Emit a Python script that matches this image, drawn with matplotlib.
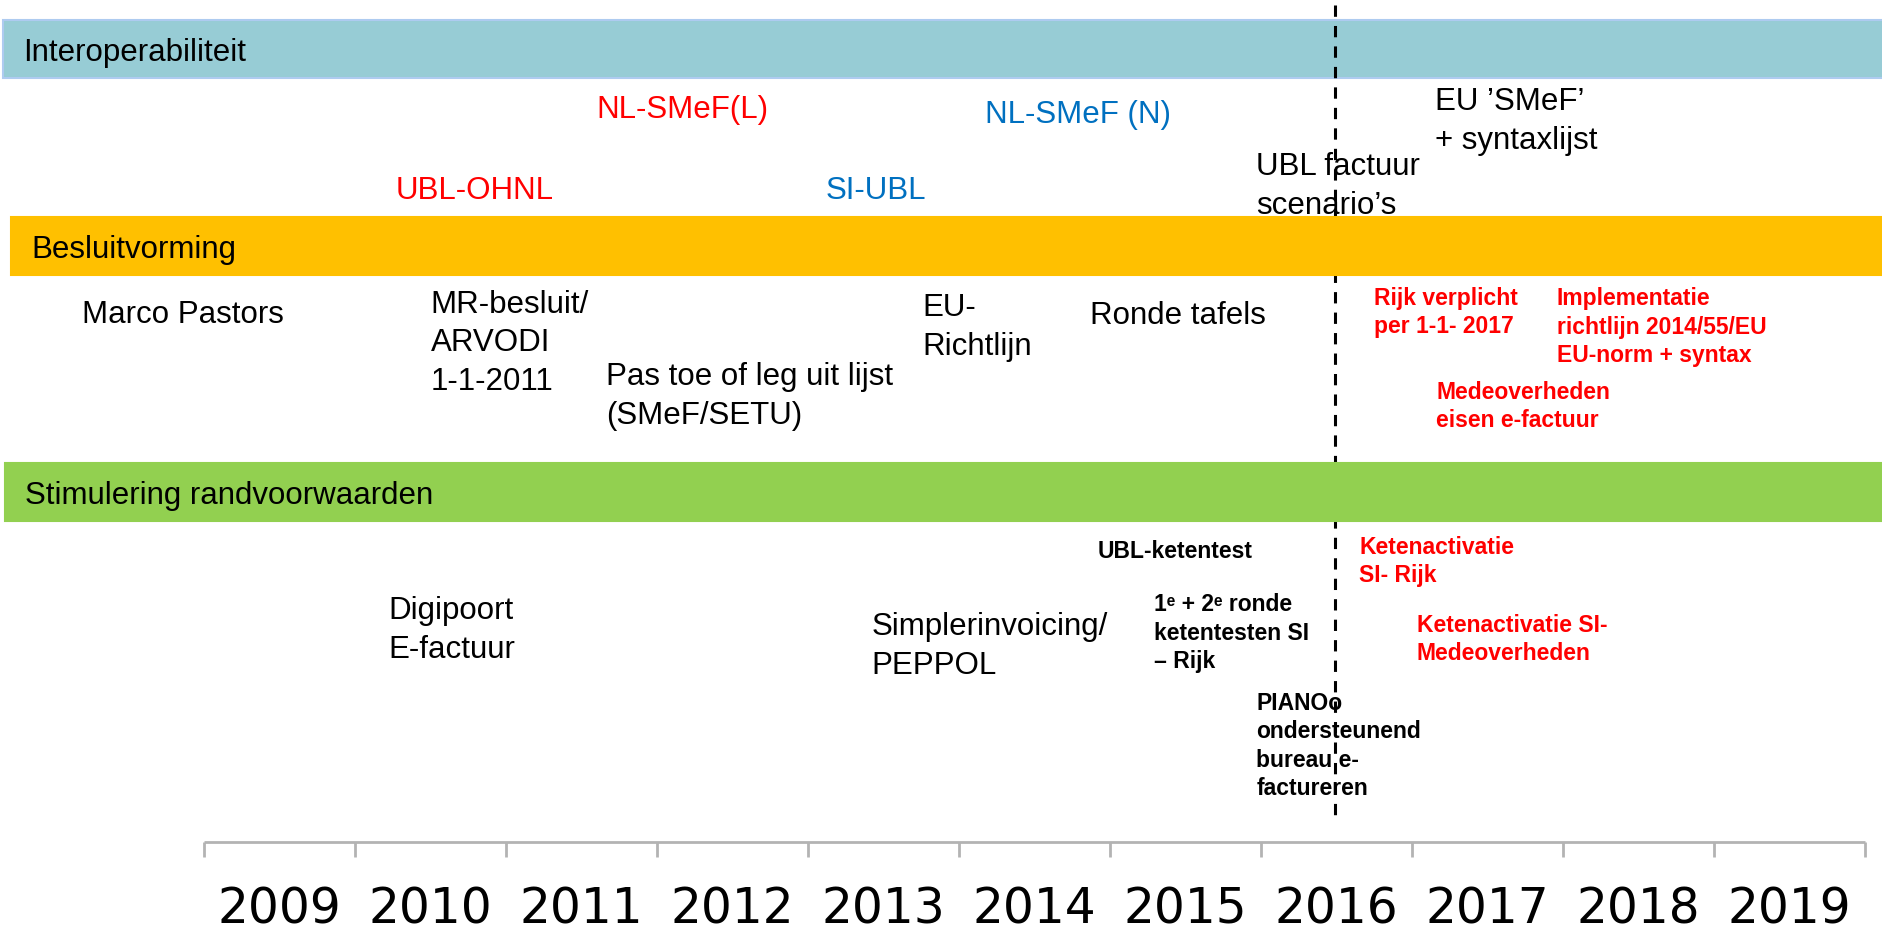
import matplotlib
matplotlib.use("Agg")
import matplotlib.pyplot as plt

# --- DATA ---
YEARS = list(range(2009, 2020))
NOW_YEAR = 2015.99  # dashed "today" marker

LANES = ['Interoperabiliteit', 'Besluitvorming', 'Stimulering randvoorwaarden']
LANE_COLORS = ['#97CCD5', '#FFC000', '#92D050']

# normal-weight items: text, start year, baseline of last line (px from top), colour
NORMAL_TEXT = ['NL-SMeF(L)', 'NL-SMeF (N)', 'UBL-OHNL', 'SI-UBL',
               'EU ’SMeF’\n+ syntaxlijst', 'UBL factuur\nscenario’s',
               'Marco Pastors', 'MR-besluit/\nARVODI\n1-1-2011',
               'Pas toe of leg uit lijst\n(SMeF/SETU)', 'EU-\nRichtlijn', 'Ronde tafels',
               'Digipoort\nE-factuur', 'Simplerinvoicing/\nPEPPOL']
NORMAL_YEAR = [2011.10, 2013.67, 2009.77, 2012.62, 2016.65, 2015.47,
               2007.69, 2010.00, 2011.16, 2013.26, 2014.37, 2009.72, 2012.92]
NORMAL_ROW = [118, 123, 199, 199, 149, 214, 323, 390, 424, 355, 324, 658, 674]
NORMAL_COLOR = ['red', '#0070C0', 'red', '#0070C0', 'black', 'black',
                'black', 'black', 'black', 'black', 'black', 'black', 'black']

# bold items
BOLD_TEXT = ['Rijk verplicht\nper 1-1- 2017',
             'Implementatie\nrichtlijn 2014/55/EU\nEU-norm + syntax',
             'Medeoverheden\neisen e-factuur',
             'Ketenactivatie\nSI- Rijk',
             'Ketenactivatie SI-\nMedeoverheden',
             'UBL-ketentest',
             '1ᵉ + 2ᵉ ronde\nketentesten SI\n– Rijk',
             'PIANOo\nondersteunend\nbureau e-\nfactureren']
BOLD_YEAR = [2016.25, 2017.46, 2016.66, 2016.15, 2016.53, 2014.42, 2014.79, 2015.47]
BOLD_ROW = [333, 362, 427, 582, 660, 558, 668, 795]
BOLD_COLOR = ['red', 'red', 'red', 'red', 'red', 'black', 'black', 'black']

# --- LAYOUT ---
W, H = 1883, 936
PX0, PX_PER_YEAR = 204, 151  # pixel of left tick (2008.5) and year width


def px_to_year(px):
    return 2008.5 + (px - PX0) / PX_PER_YEAR


fig = plt.figure(figsize=(W / 100, H / 100), dpi=100)
ax = fig.add_axes([0, 0, 1, 1])
ax.set_xlim(px_to_year(0), px_to_year(W))
ax.set_ylim(H, 0)
ax.axis('off')

lane_top = [20, 217, 463]
lane_bottom = [78, 275, 521]
lane_left = [3, 11, 5]
lane_z = [1, 2.5, 2.5]  # the dashed line shows over the blue band only
for name, col, t, b, l, z in zip(LANES, LANE_COLORS, lane_top, lane_bottom, lane_left, lane_z):
    edge = '#AECBF0' if name == 'Interoperabiliteit' else col
    ax.axhspan(t, b, xmin=l / W, xmax=1, facecolor=col, edgecolor=edge, lw=1.5, zorder=z)
    ax.text(px_to_year(l + 20), b - 17, name, fontsize=22.5, family='Liberation Sans',
            va='baseline', ha='left', zorder=3)

for txt, yr, row, col in zip(NORMAL_TEXT, NORMAL_YEAR, NORMAL_ROW, NORMAL_COLOR):
    ax.text(yr, row, txt, color=col, fontsize=22.5, family='Liberation Sans',
            va='baseline', ha='left', linespacing=1.38, zorder=3)

for txt, yr, row, col in zip(BOLD_TEXT, BOLD_YEAR, BOLD_ROW, BOLD_COLOR):
    ax.text(yr, row, txt, color=col, fontsize=16.5, fontweight='bold',
            family=['Liberation Sans', 'DejaVu Sans'],
            va='baseline', ha='left', linespacing=1.3, zorder=3)

# dashed "now" line
ax.vlines(NOW_YEAR, 5, 822, colors='black', linestyles=(0, (3.7, 3.0)), lw=2.2, zorder=2)

# year axis
ticks = [y - 0.5 for y in YEARS] + [YEARS[-1] + 0.5]
ax.hlines(842, ticks[0], ticks[-1], colors='#B3B3B3', lw=2)
ax.vlines(ticks, 842, 857, colors='#B3B3B3', lw=2)
for y in YEARS:
    ax.text(y, 923, str(y), fontsize=35, family='DejaVu Sans', ha='center', va='baseline')

fig.savefig('out.png', dpi=100)
